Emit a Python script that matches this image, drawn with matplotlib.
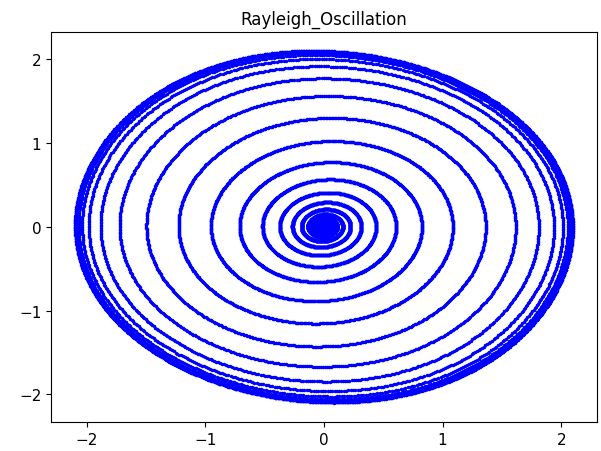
import numpy as np
import matplotlib
matplotlib.use("Agg")
import matplotlib.pyplot as plt

# Rayleigh oscillator: x'' - mu*(x' - x'^3/3) + x = 0, forward Euler
mu = 0.1
dt = 0.01
n_steps = 16000
x0, v0 = 0.01, 0.0

x = [x0]
v = [v0]
for i in range(n_steps):
    xi, vi = x[-1], v[-1]
    x.append(xi + dt * vi)
    v.append(vi + dt * (mu * (vi - vi ** 3 / 3.0) - xi))

fig = plt.figure(figsize=(6.01, 4.52), dpi=100)
ax = fig.add_axes([0.085, 0.064, 0.908, 0.863])
ax.plot(x, v, '.', color='blue', markersize=3)
ax.set_xlim(-2.3, 2.3)
ax.set_ylim(-2.33, 2.32)
ax.set_xticks([-2, -1, 0, 1, 2])
ax.set_yticks([-2, -1, 0, 1, 2])
ax.tick_params(labelsize=11)
ax.set_title('Rayleigh_Oscillation', fontsize=12)

fig.savefig('out.png', dpi=100)
